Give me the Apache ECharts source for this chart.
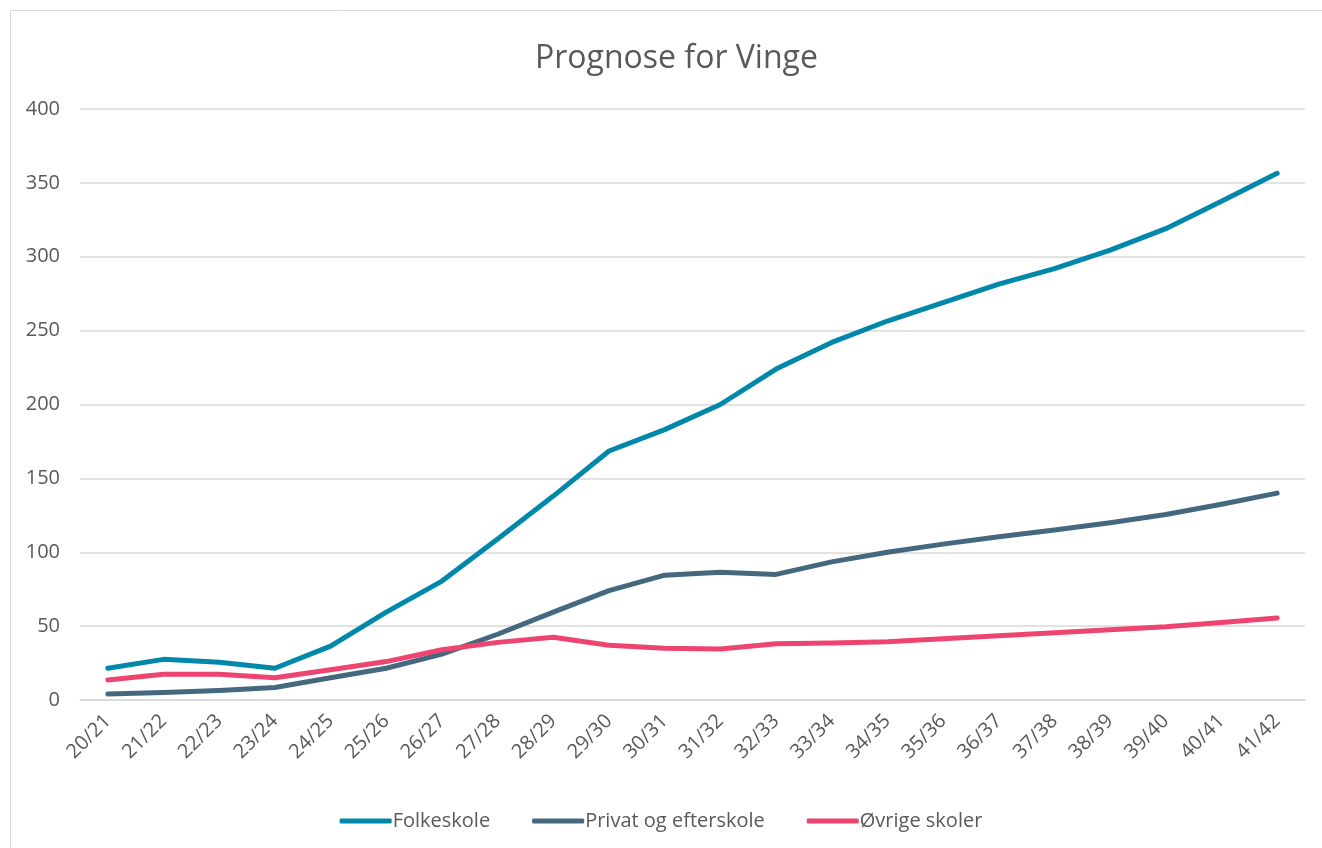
<!DOCTYPE html>
<html>
<head>
<meta charset="utf-8">
<script src="https://cdn.jsdelivr.net/npm/echarts@6/dist/echarts.min.js"></script>
<style>html,body{margin:0;padding:0;background:#fff}#c{width:1322px;height:848px}</style>
</head>
<body>
<div id="c"></div>
<script>
const categories = ['20/21','21/22','22/23','23/24','24/25','25/26','26/27','27/28','28/29','29/30','30/31','31/32','32/33','33/34','34/35','35/36','36/37','37/38','38/39','39/40','40/41','41/42'];
const folkeskole = [21.5,27.5,25.5,21.5,36.5,59.5,80.5,109,138,168.5,183,200,224,242,256.5,269,281.5,292,304.5,319,337.5,356.5];
const privat = [4,5,6.5,8.5,15,21.5,31,44.5,59.5,74,84.5,86.5,85,93.5,100,105.5,110.5,115,120,125.5,132.5,140];
const ovrige = [13.5,17.5,17.5,15,20.5,26,34,39,42.5,37,35,34.5,38,38.5,39.5,41.5,43.5,45.5,47.5,49.5,52.5,55.5];
const yTicks = [0,50,100,150,200,250,300,350,400];

const font = '"Open Sans", "Liberation Sans", sans-serif';
const textColor = '#595959';
const chart = echarts.init(document.getElementById('c'));
function mk(name, data, color) {
  return {name, type:'line', data, symbol:'none', smooth:false,
    lineStyle:{color, width:5, cap:'round', join:'round'}, itemStyle:{color}};
}
chart.setOption({
  animation:false,
  graphic:[{type:'rect', shape:{x:10.5,y:10.5,width:1330,height:850}, style:{fill:'none', stroke:'#d9d9d9', lineWidth:1}}],
  title:{text:'Prognose for Vinge', left:530, top:38, textStyle:{fontFamily:font, fontSize:32, fontWeight:'normal', color:textColor}},
  legend:{bottom:12, left:'center', itemWidth:52, itemHeight:5, itemGap:42,
    icon:'roundRect',
    textStyle:{fontFamily:font, fontSize:20, color:textColor, padding:[0,0,0,-4]},
    data:['Folkeskole','Privat og efterskole','Øvrige skoler']},
  grid:{left:80, right:17, top:109, bottom:148, containLabel:false},
  xAxis:{type:'category', data:categories, boundaryGap:true,
    axisLine:{show:true, lineStyle:{color:'#d9d9d9', width:1.5}}, axisTick:{show:false},
    axisLabel:{rotate:45, fontFamily:font, fontSize:20, color:textColor, margin:18, interval:0}},
  yAxis:{type:'value', min:0, max:400, interval:50,
    axisLine:{show:false}, axisTick:{show:false},
    splitLine:{lineStyle:{color:'#d9d9d9', width:1.5}},
    axisLabel:{fontFamily:font, fontSize:20, color:textColor, margin:20,
      formatter:v=>yTicks.includes(v)?String(v):''}},
  series:[
    mk('Folkeskole', folkeskole, '#0088aa'),
    mk('Privat og efterskole', privat, '#44687e'),
    mk('Øvrige skoler', ovrige, '#ee4470')
  ]
});
</script>
</body>
</html>
